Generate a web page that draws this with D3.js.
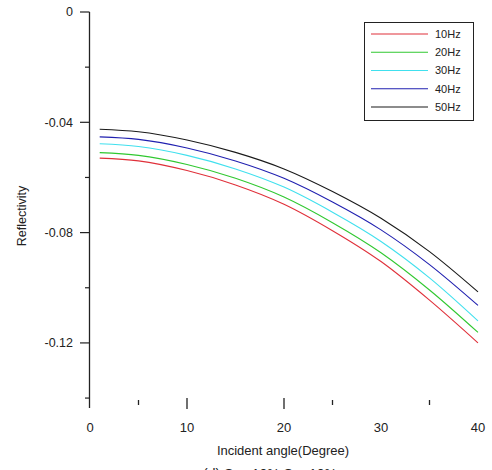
<!DOCTYPE html>
<html>
<head>
<meta charset="utf-8">
<script src="https://cdn.jsdelivr.net/npm/d3@7"></script>
<style>
  body { margin: 0; background: #fff; }
  text { font-family: "Liberation Sans", Arial, sans-serif; fill: #222; }
</style>
</head>
<body>
<svg id="chart"></svg>
<script>
// Data
const angles = [1, 5, 10, 15, 20, 25, 30, 35, 40];
const freqLabels = ["10Hz", "20Hz", "30Hz", "40Hz", "50Hz"];
const hz10 = [-0.0530, -0.0540, -0.0575, -0.0627, -0.0697, -0.0793, -0.0905, -0.1045, -0.1200];
const hz20 = [-0.0510, -0.0520, -0.0553, -0.0603, -0.0671, -0.0764, -0.0873, -0.1008, -0.1162];
const hz30 = [-0.0478, -0.0488, -0.0520, -0.0569, -0.0635, -0.0726, -0.0832, -0.0964, -0.1120];
const hz40 = [-0.0453, -0.0462, -0.0493, -0.0540, -0.0603, -0.0689, -0.0790, -0.0916, -0.1064];
const hz50 = [-0.0425, -0.0434, -0.0464, -0.0509, -0.0569, -0.0651, -0.0748, -0.0869, -0.1015];
const series = [hz10, hz20, hz30, hz40, hz50];
const colors = ["#e0303a", "#30c830", "#40e0ee", "#2020b0", "#1a1a1a"];

const yTicks = [0, -0.04, -0.08, -0.12];
const yMinor = [-0.02, -0.06, -0.10, -0.14];
const xTicks = [0, 10, 20, 30, 40];
// only these tick marks show on the bottom of the scan
const xMajorMarks = [10, 20];
const xMinorMarks = [5, 25, 35];

const width = 492;
const height = 470;
const svg = d3.select("#chart")
    .attr("width", width)
    .attr("height", height);

// Scales
const x = d3.scaleLinear().domain([0, 40]).range([90, 478]);
const y = d3.scaleLinear().domain([-0.1436, 0]).range([408, 12]);

// Y axis line
svg.append("line")
    .attr("x1", 89.5).attr("x2", 89.5)
    .attr("y1", y(0)).attr("y2", 408)
    .attr("stroke", "#222").attr("stroke-width", 1.3);

// Y ticks and labels
svg.selectAll(".ytick")
    .data(yTicks)
    .enter()
    .append("line")
    .attr("x1", 80).attr("x2", 89.5)
    .attr("y1", d => y(d)).attr("y2", d => y(d))
    .attr("stroke", "#222").attr("stroke-width", 1.2);

svg.selectAll(".yminor")
    .data(yMinor)
    .enter()
    .append("line")
    .attr("x1", 85).attr("x2", 89.5)
    .attr("y1", d => y(d)).attr("y2", d => y(d))
    .attr("stroke", "#222").attr("stroke-width", 1.2);

svg.selectAll(".ylabel")
    .data(yTicks)
    .enter()
    .append("text")
    .attr("x", 73)
    .attr("y", d => y(d))
    .attr("dy", "0.35em")
    .attr("text-anchor", "end")
    .attr("font-size", 12.5)
    .text(d => d === 0 ? "0" : d.toFixed(2));

// X tick marks (no bottom axis line)
svg.selectAll(".xtick")
    .data(xMajorMarks)
    .enter()
    .append("line")
    .attr("x1", d => x(d)).attr("x2", d => x(d))
    .attr("y1", 398).attr("y2", 409)
    .attr("stroke", "#222").attr("stroke-width", 1.3);

svg.selectAll(".xminor")
    .data(xMinorMarks)
    .enter()
    .append("line")
    .attr("x1", d => x(d)).attr("x2", d => x(d))
    .attr("y1", 400).attr("y2", 405)
    .attr("stroke", "#222").attr("stroke-width", 1.3);

svg.selectAll(".xlabel")
    .data(xTicks)
    .enter()
    .append("text")
    .attr("x", d => x(d))
    .attr("y", 432)
    .attr("text-anchor", "middle")
    .attr("font-size", 13)
    .text(d => d);

// Axis titles
svg.append("text")
    .attr("x", 283).attr("y", 455)
    .attr("text-anchor", "middle")
    .attr("font-size", 13)
    .text("Incident angle(Degree)");

svg.append("text")
    .attr("transform", "translate(26,216) rotate(-90)")
    .attr("text-anchor", "middle")
    .attr("font-size", 12.5)
    .text("Reflectivity");

// Cut-off caption at the bottom
svg.append("text")
    .attr("x", 270).attr("y", 479)
    .attr("text-anchor", "middle")
    .attr("font-size", 14)
    .text("(d) Sw=10%  Sg=10%");

// Curves
const line = d3.line()
    .x((d, i) => x(angles[i]))
    .y(d => y(d))
    .curve(d3.curveMonotoneX);

series.forEach((s, i) => {
    svg.append("path")
        .attr("d", line(s))
        .attr("fill", "none")
        .attr("stroke", colors[i])
        .attr("stroke-width", 1.1);
});

// Legend
const legend = svg.append("g");
legend.append("rect")
    .attr("x", 364.5).attr("y", 22.5)
    .attr("width", 109).attr("height", 98)
    .attr("fill", "#fff")
    .attr("stroke", "#222").attr("stroke-width", 1);

const legendY = d3.scalePoint().domain(freqLabels).range([34, 107]);
freqLabels.forEach((f, i) => {
    legend.append("line")
        .attr("x1", 371).attr("x2", 428)
        .attr("y1", legendY(f)).attr("y2", legendY(f))
        .attr("stroke", colors[i]).attr("stroke-width", 1.1);
    legend.append("text")
        .attr("x", 435).attr("y", legendY(f))
        .attr("dy", "0.35em")
        .attr("font-size", 11)
        .text(f);
});
</script>
</body>
</html>
